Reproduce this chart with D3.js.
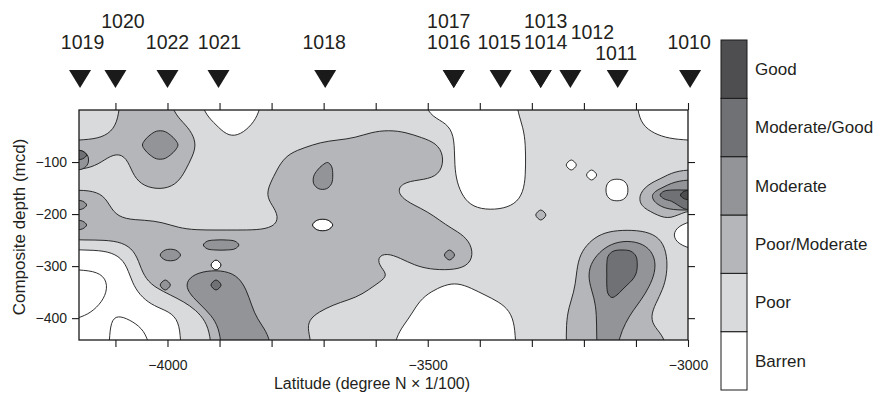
<!DOCTYPE html>
<html>
<head>
<meta charset="utf-8">
<script src="https://cdn.jsdelivr.net/npm/d3@7"></script>
<style>
  body { margin: 0; background: #fff; }
  svg { display: block; }
  text { font-family: "Liberation Sans", Arial, Helvetica, sans-serif; fill: #231f20; }
</style>
</head>
<body>
<svg id="chart" width="887" height="397"></svg>
<script>
// Preservation classes, lowest to highest
const classes = ["Barren", "Poor", "Poor/Moderate", "Moderate", "Moderate/Good", "Good"];
const classColors = ["#ffffff", "#d9dadc", "#b5b6b9", "#939497", "#707174", "#4e4e50"];

// ODP sites and their latitude (degree N x 1/100, plotted negative)
const sites = ["1019", "1020", "1022", "1021", "1018", "1017", "1016", "1015", "1013", "1014", "1012", "1011", "1010"];
const siteLat = [-4168, -4100, -4000, -3902, -3697, -3450, -3450, -3360, -3283, -3283, -3226, -3135, -2996];

// Axis extents and ticks
const latDomain = [-4170, -3000];
const depthDomain = [0, -442];
const latTicks = d3.range(-4100, -2999, 100);
const latLabels = [-4000, -3500, -3000];
const depthTicks = [-100, -200, -300, -400];

// Gridded preservation class along the transect, run-length coded as "class*count".
// Columns run from -4170 to -3000, rows from the top of the section downwards.
// Class -1 marks the closed contour drawn inside the barren zone.
const gridRows = [
  "1*4 2*5 1*3 0*6 1*16 0*9 1*12 0*5",
  "1*4 2*7 1*3 0*3 1*20 0*7 1*11 0*5",
  "1*3 2*4 3*2 2*2 1*3 0*2 1*12 2*5 1*4 0*7 1*13 0*3",
  "2*6 3*4 2*2 1*11 2*13 1*1 0*7 1*16",
  "4*1 2*2 1*2 2*2 3*2 2*2 1*9 2*16 1*1 0*7 1*16",
  "3*1 2*1 1*3 2*6 1*9 2*4 3*1 2*11 1*1 0*7 1*4 0*1 1*11",
  "1*5 2*5 1*9 2*4 3*2 2*11 1*1 0*7 1*6 0*1 1*7 2*2",
  "1*6 2*4 1*9 2*4 3*2 2*6 1*6 0*7 1*8 0*2 1*2 2*2 3*2",
  "2*3 1*15 2*13 1*7 0*6 1*8 0*2 1*1 2*1 3*1 4*2 5*1",
  "3*1 2*2 1*16 2*14 1*5 0*5 1*12 2*2 3*2 4*1",
  "2*3 1*17 2*15 1*10 2*1 1*11 2*2 1*1",
  "3*1 2*8 1*11 2*3 0*2 2*11 1*23 0*1",
  "2*38 1*13 2*6 1*1 0*2",
  "1*5 2*7 3*4 2*23 1*11 2*2 3*4 2*2 1*1 0*1",
  "0*4 1*2 2*2 3*2 2*19 1*2 2*5 3*1 2*2 1*10 2*2 3*1 4*3 3*2 2*1 1*2",
  "0*5 1*1 2*7 0*1 2*15 1*4 2*6 1*10 2*1 3*2 4*3 3*2 2*1 1*2",
  "-1*3 0*2 1*1 2*5 3*5 2*15 1*18 2*1 3*2 4*3 3*2 2*1 1*2",
  "-1*3 0*2 1*2 2*1 3*1 2*1 3*3 4*1 3*2 2*13 1*7 0*2 1*11 2*1 3*2 4*2 3*2 2*2 1*2",
  "-1*3 0*3 1*3 2*2 3*6 2*11 1*6 0*6 1*9 2*2 3*1 4*1 3*3 2*1 1*3",
  "-1*2 0*5 1*4 2*1 3*5 2*8 1*8 0*9 1*6 2*3 3*4 2*2 1*3",
  "-1*1 0*2 -1*1 0*6 1*2 2*1 3*4 2*6 1*10 0*10 1*5 2*3 3*3 2*2 1*4",
  "0*3 -1*3 0*4 1*3 2*1 3*4 2*4 1*10 0*11 1*5 2*3 3*3 2*2 1*4",
  "0*3 -1*4 0*3 1*3 2*1 3*5 2*4 1*8 0*12 1*5 2*3 3*2 2*5 1*2"
];

// Label placement for the site names above the markers: [dx, baseline]
const siteLabelPlacement = {
  "1019": [2.5, 49], "1020": [7.5, 28], "1022": [0, 49], "1021": [1, 49],
  "1018": [-1, 49], "1017": [-5, 28], "1016": [-5, 49], "1015": [-1.5, 49],
  "1013": [5, 28], "1014": [5, 49], "1012": [22, 38.5], "1011": [-1.5, 60],
  "1010": [-1, 49]
};

const svg = d3.select("#chart");
const plot = { left: 79, right: 688, top: 110, bottom: 340 };

const x = d3.scaleLinear().domain(latDomain).range([plot.left, plot.right]);
const y = d3.scaleLinear().domain(depthDomain).range([plot.top, plot.bottom]);

// Expand the run-length rows into a numeric grid
const grid = gridRows.map(row => row.trim().split(/\s+/).flatMap(tok => {
  const [v, n] = tok.split("*").map(Number);
  return Array(n).fill(v);
}));
const nCols = grid[0].length, nRows = grid.length;

// Pad the grid on every side so the contours run straight out past the frame
const pad = 3;
const pw = nCols + 2 * pad, ph = nRows + 2 * pad;
const values = new Array(pw * ph);
for (let j = 0; j < ph; j++) {
  for (let i = 0; i < pw; i++) {
    const r = Math.min(nRows - 1, Math.max(0, j - pad));
    const c = Math.min(nCols - 1, Math.max(0, i - pad));
    values[j * pw + i] = grid[r][c];
  }
}
const dLat = (latDomain[1] - latDomain[0]) / nCols;
const dDepth = (depthDomain[1] - depthDomain[0]) / nRows;
const gx = g => x(latDomain[0] + (g - pad) * dLat);
const gy = g => y(depthDomain[0] + (g - pad) * dDepth);

const levels = [0, 1, 2, 3, 4, 5];
const bands = d3.contours().size([pw, ph]).smooth(false).thresholds(levels)(values);

// Soften the cell steps of each ring with a small moving average along the ring
function softenRing(pts) {
  const n = pts.length;
  if (n <= 8) return pts;
  const k = n <= 16 ? [1, 2, 1] : [1, 2, 3, 2, 1];
  const passes = n > 30 ? 2 : 1;
  const h = (k.length - 1) / 2, sum = d3.sum(k);
  let cur = pts;
  for (let p = 0; p < passes; p++) {
    cur = cur.map((_, i) => {
      let sx = 0, sy = 0;
      for (let j = -h; j <= h; j++) {
        const q = cur[(i + j + n) % n];
        sx += k[j + h] * q[0];
        sy += k[j + h] * q[1];
      }
      return [sx / sum, sy / sum];
    });
  }
  return cur;
}

const ring = d3.line()
  .x(p => gx(p[0]))
  .y(p => gy(p[1]))
  .curve(d3.curveCatmullRomClosed.alpha(0.5));
const bandPath = geom => geom.coordinates
  .map(poly => poly.map(r => ring(softenRing(r.slice(0, -1)))).join(""))
  .join("");

svg.append("defs").append("clipPath").attr("id", "plot-clip")
  .append("rect")
  .attr("x", plot.left).attr("y", plot.top)
  .attr("width", plot.right - plot.left).attr("height", plot.bottom - plot.top);

const field = svg.append("g").attr("clip-path", "url(#plot-clip)");
field.append("rect")
  .attr("x", plot.left).attr("y", plot.top)
  .attr("width", plot.right - plot.left).attr("height", plot.bottom - plot.top)
  .attr("fill", "#ffffff");

field.selectAll("path.band")
  .data(bands)
  .join("path")
  .attr("class", "band")
  .attr("d", bandPath)
  .attr("fill", d => classColors[d.value])
  .attr("fill-rule", "evenodd")
  .attr("stroke", "#1a1a1a")
  .attr("stroke-width", 0.9)
  .attr("stroke-linejoin", "round");

// Axes: ticks on all four sides, labels on bottom and left
const fmt = d3.format("");
const tick = 7;

const xBottom = svg.append("g")
  .attr("transform", `translate(0,${plot.bottom})`)
  .call(d3.axisBottom(x).tickValues(latTicks).tickSize(tick).tickPadding(13)
    .tickFormat(d => latLabels.includes(d) ? fmt(d) : ""));
const xTop = svg.append("g")
  .attr("transform", `translate(0,${plot.top})`)
  .call(d3.axisTop(x).tickValues(latTicks).tickSize(tick).tickFormat(""));
const yLeft = svg.append("g")
  .attr("transform", `translate(${plot.left},0)`)
  .call(d3.axisLeft(y).tickValues(depthTicks).tickSize(tick).tickPadding(5).tickFormat(fmt));
const yRight = svg.append("g")
  .attr("transform", `translate(${plot.right},0)`)
  .call(d3.axisRight(y).tickValues(depthTicks).tickSize(tick).tickFormat(""));

[xBottom, xTop, yLeft, yRight].forEach(g => {
  g.select(".domain").remove();
  g.selectAll(".tick line").attr("stroke", "#1a1a1a").attr("stroke-width", 1.1);
  g.selectAll(".tick text").style("font-size", "14px")
    .style("font-family", '"Liberation Sans", Arial, sans-serif').attr("fill", "#231f20");
});

svg.append("rect")
  .attr("x", plot.left).attr("y", plot.top)
  .attr("width", plot.right - plot.left).attr("height", plot.bottom - plot.top)
  .attr("fill", "none").attr("stroke", "#1a1a1a").attr("stroke-width", 1.3);

svg.append("text")
  .attr("x", 372).attr("y", 389)
  .attr("text-anchor", "middle")
  .style("font-size", "16px")
  .text("Latitude (degree N \u00d7 1/100)");

svg.append("text")
  .attr("transform", `translate(25,${(plot.top + plot.bottom) / 2 + 2}) rotate(-90)`)
  .attr("text-anchor", "middle")
  .style("font-size", "17px")
  .text("Composite depth (mcd)");

// Site markers and names
svg.append("g").selectAll("path")
  .data(sites)
  .join("path")
  .attr("d", (s, i) => {
    const cx = x(siteLat[i]);
    return `M${cx - 11},70L${cx + 11},70L${cx},88Z`;
  })
  .attr("fill", "#1a1a1a");

svg.append("g").selectAll("text")
  .data(sites)
  .join("text")
  .attr("x", (s, i) => x(siteLat[i]) + siteLabelPlacement[s][0])
  .attr("y", s => siteLabelPlacement[s][1])
  .attr("text-anchor", "middle")
  .style("font-size", "19.5px")
  .text(s => s);

// Legend colour bar, Good at the top
const legend = { x: 721, width: 26, top: 40, bottom: 390 };
const ly = d3.scaleBand().domain(classes.slice().reverse()).range([legend.top, legend.bottom]);
const lg = svg.append("g");
lg.selectAll("rect")
  .data(classes)
  .join("rect")
  .attr("x", legend.x)
  .attr("y", d => ly(d))
  .attr("width", legend.width)
  .attr("height", ly.bandwidth())
  .attr("fill", (d, i) => classColors[i])
  .attr("stroke", "#1a1a1a")
  .attr("stroke-width", 1);
lg.selectAll("text")
  .data(classes)
  .join("text")
  .attr("x", legend.x + legend.width + 8)
  .attr("y", d => ly(d) + ly.bandwidth() / 2)
  .attr("dy", "0.35em")
  .style("font-size", "17px")
  .text(d => d);
</script>
</body>
</html>
